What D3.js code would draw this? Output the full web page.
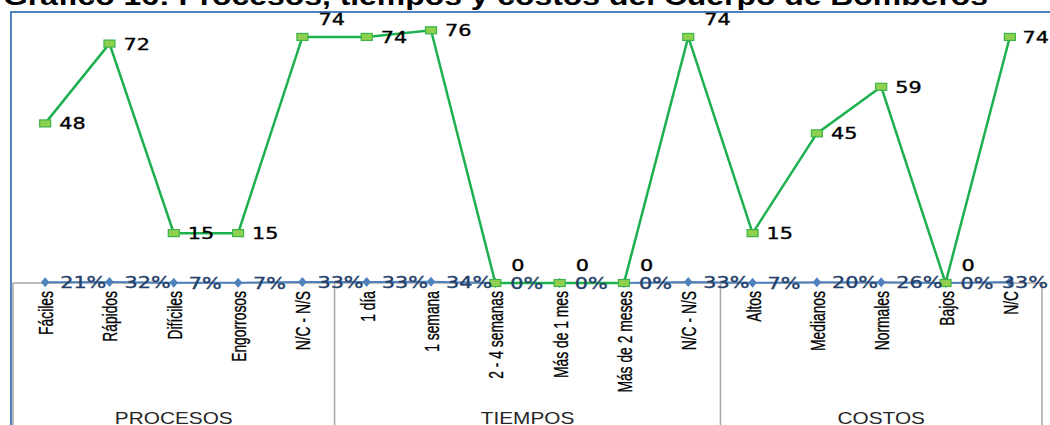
<!DOCTYPE html>
<html>
<head>
<meta charset="utf-8">
<script src="https://cdn.jsdelivr.net/npm/d3@7"></script>
<style>
  html, body { margin: 0; padding: 0; background: #fff; }
  svg { display: block; }
</style>
</head>
<body>
<svg id="chart" width="1050" height="425"></svg>
<script>
// ---------------- DATA ----------------
const title = "Gráfico 16: Procesos, tiempos y costos del Cuerpo de Bomberos";
const groups = ["PROCESOS", "TIEMPOS", "COSTOS"];
const groupSizes = [5, 6, 5];
const categories = [
  "Fáciles", "Rápidos", "Difíciles", "Engorrosos", "N/C - N/S",
  "1 día", "1 semana", "2 - 4 semanas", "Más de 1 mes", "Más de 2 meses", "N/C - N/S",
  "Altos", "Medianos", "Normales", "Bajos", "N/C"
];
const counts = [48, 72, 15, 15, 74, 74, 76, 0, 0, 0, 74, 15, 45, 59, 0, 74];
const shares = [0.21, 0.32, 0.07, 0.07, 0.33, 0.33, 0.34, 0, 0, 0, 0.33, 0.07, 0.20, 0.26, 0, 0.33];
// label placement keyword for the counts series: r = right, ur = upper right
const countLabelPos = ["r","r","r","r","ur","r","r","ur","ur","ur","ur","r","r","r","ur","r"];
const yMax = 80;

// ---------------- CHART ----------------
const W = 1050, H = 425;
const svg = d3.select("#chart");
const plotLeft = 13, plotRight = 1042, baseY = 283, topY = 17;
const SX = 1.3; // horizontal stretch of the original picture's text

const idx = d3.range(categories.length);
const x = d3.scaleBand().domain(idx).range([plotLeft, plotRight]).padding(0);
const cx = i => x(i) + x.bandwidth() / 2;
const y = d3.scaleLinear().domain([0, yMax]).range([baseY, topY]);

svg.append("rect").attr("width", W).attr("height", H).attr("fill", "#fff");

// Title (cut off at the top, as in the reference)
svg.append("text")
  .attr("x", 3).attr("y", 5)
  .attr("textLength", 985).attr("lengthAdjust", "spacingAndGlyphs")
  .attr("font-family", "Liberation Sans, Arial, sans-serif")
  .attr("font-weight", "bold").attr("font-size", 25)
  .attr("fill", "#000")
  .text(title);

// Chart area border (blue)
svg.append("path")
  .attr("d", `M11,${H + 5} L11,12 L${W + 5},12`)
  .attr("fill", "none").attr("stroke", "#4F81BD").attr("stroke-width", 2);

// Category axis (multi-level)
const axisColor = "#A6A6A6";
svg.append("line")
  .attr("x1", plotLeft).attr("x2", plotRight)
  .attr("y1", baseY).attr("y2", baseY)
  .attr("stroke", axisColor).attr("stroke-width", 1.5);

const groupStarts = [];
let acc = 0;
groupSizes.forEach(n => { groupStarts.push(acc); acc += n; });
const boundaries = groupStarts.map(s => x(s)).concat([x(acc - 1) + x.bandwidth()]);
svg.selectAll("line.div").data(boundaries).join("line")
  .attr("class", "div")
  .attr("x1", d => d).attr("x2", d => d)
  .attr("y1", baseY).attr("y2", H)
  .attr("stroke", axisColor).attr("stroke-width", 1.5);

// Category labels (rotated)
svg.selectAll("text.cat").data(categories).join("text")
  .attr("class", "cat")
  .attr("transform", (d, i) => `translate(${cx(i) + 8},${baseY + 8}) rotate(-90) scale(0.66,1)`)
  .attr("text-anchor", "end")
  .attr("font-family", "Liberation Sans, Arial, sans-serif")
  .attr("font-size", 21)
  .attr("fill", "#000")
  .attr("stroke", "#000").attr("stroke-width", 0.3)
  .text(d => d);

// Group labels
svg.selectAll("text.grp").data(groups).join("text")
  .attr("class", "grp")
  .attr("transform", (d, i) => {
    const a = x(groupStarts[i]);
    const b = x(groupStarts[i] + groupSizes[i] - 1) + x.bandwidth();
    return `translate(${(a + b) / 2},${H - 1}) scale(${SX},1)`;
  })
  .attr("text-anchor", "middle")
  .attr("font-family", "Liberation Sans, Arial, sans-serif")
  .attr("font-size", 16)
  .attr("fill", "#262626")
  .text(d => d);

// Shares series (blue)
const blue = "#4F81BD";
const line = d3.line().x((d, i) => cx(i)).y(d => y(d));
svg.append("path").datum(shares)
  .attr("d", line)
  .attr("fill", "none").attr("stroke", blue).attr("stroke-width", 2);
svg.selectAll("path.dia").data(shares).join("path")
  .attr("class", "dia")
  .attr("d", d3.symbol().type(d3.symbolDiamond).size(40))
  .attr("transform", (d, i) => `translate(${cx(i)},${y(d)}) scale(1.25,0.85)`)
  .attr("fill", blue);

// Counts series (green)
const green = "#1DB04E";
svg.append("path").datum(counts)
  .attr("d", line)
  .attr("fill", "none").attr("stroke", green).attr("stroke-width", 2.5);
svg.selectAll("rect.sq").data(counts).join("rect")
  .attr("class", "sq")
  .attr("x", (d, i) => cx(i) - 5.5).attr("y", d => y(d) - 3.5)
  .attr("width", 11).attr("height", 7)
  .attr("fill", "#8FD14F").attr("stroke", "#3DB34A").attr("stroke-width", 1.2);

// Share labels (kept inside the chart at the right edge)
const pct = d3.format(".0%");
const lblFont = 16, charW = 0.636 * lblFont * SX, pctW = 0.95 * lblFont * SX;
svg.selectAll("text.pl").data(shares).join("text")
  .attr("class", "pl")
  .attr("transform", (d, i) => {
    const txt = pct(d);
    const w = (txt.length - 1) * charW + pctW;
    const lx = Math.min(cx(i) + 15, W - 2 - w);
    return `translate(${lx},${y(d) + 6}) scale(${SX},1)`;
  })
  .attr("font-family", "DejaVu Sans, Verdana, sans-serif")
  .attr("font-size", lblFont)
  .attr("fill", "#24406A")
  .attr("stroke", "#24406A").attr("stroke-width", 0.35)
  .text(d => pct(d));

// Count labels
svg.selectAll("text.cl").data(counts).join("text")
  .attr("class", "cl")
  .attr("transform", (d, i) => {
    const p = countLabelPos[i];
    const dx = p === "ur" ? 16 : 14;
    const dy = p === "ur" ? -18 : 0;
    const txtW = String(d).length * charW;
    const lx = Math.min(cx(i) + dx, W - 1 - txtW);
    return `translate(${lx},${y(d) + dy + 6}) scale(${SX},1)`;
  })
  .attr("font-family", "DejaVu Sans, Verdana, sans-serif")
  .attr("font-size", lblFont)
  .attr("fill", "#000")
  .attr("stroke", "#000").attr("stroke-width", 0.35)
  .text(d => d);
</script>
</body>
</html>
